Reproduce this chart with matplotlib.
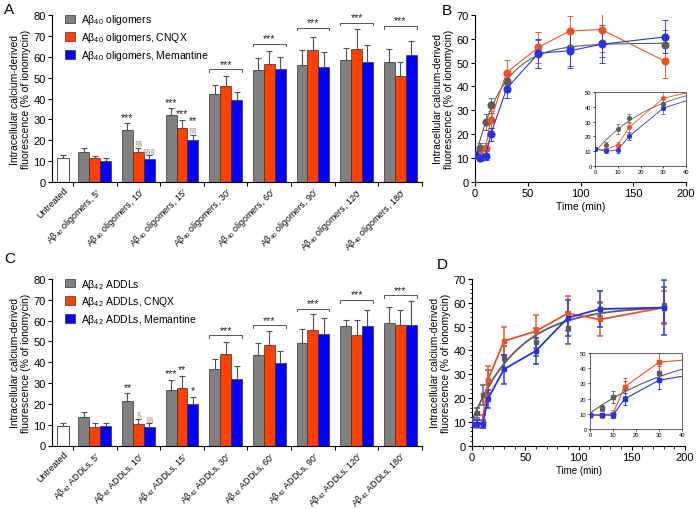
"""
Calcium influx time-course figure: A/C bar panels, B/D kinetic curves with insets.
Output: out.png
"""

import matplotlib
matplotlib.use("Agg")
import matplotlib.pyplot as plt
import numpy as np
from matplotlib.patches import Patch
from matplotlib.ticker import MultipleLocator

plt.rcParams["font.family"] = ["Liberation Sans", "DejaVu Sans"]
plt.rcParams["mathtext.fontset"] = "custom"
plt.rcParams["mathtext.rm"] = "Liberation Sans"
plt.rcParams["mathtext.it"] = "Liberation Sans:italic"
plt.rcParams["axes.linewidth"] = 0.8

# ── Data ──────────────────────────────────────────────────────────────────────
TIMES = [0, 5, 10, 15, 30, 60, 90, 120, 180]
MINUTES = ["5′", "10′", "15′", "30′", "60′", "90′", "120′", "180′"]

# Panel A / B : Aβ40 oligomers
UNTREATED_A = 11.4
UNTREATED_A_ERR = 1.5
OLIG = [14.2, 24.9, 32.1, 42.1, 53.7, 56.0, 58.3, 57.6]
OLIG_ERR = [1.9, 3.4, 3.2, 4.4, 5.8, 7.3, 5.8, 6.1]
OLIG_CNQX = [11.3, 14.2, 26.1, 45.8, 56.4, 63.3, 63.9, 50.6]
OLIG_CNQX_ERR = [1.1, 2.1, 3.7, 5.2, 6.5, 6.2, 9.5, 7.0]
OLIG_MEM = [10.0, 10.9, 20.0, 39.1, 53.9, 55.0, 57.7, 60.8]
OLIG_MEM_ERR = [1.4, 1.9, 2.7, 4.1, 6.2, 7.4, 7.9, 6.9]
BRACKET_A = [54.0, 66.3, 73.9, 76.3, 74.7]

# Panel C / D : Aβ42 ADDLs
UNTREATED_C = 9.3
UNTREATED_C_ERR = 1.3
ADDL = [13.8, 21.2, 26.8, 36.7, 43.6, 49.4, 57.5, 59.0]
ADDL_ERR = [2.2, 4.1, 4.8, 5.0, 5.8, 6.7, 2.9, 7.5]
ADDL_CNQX = [9.0, 10.1, 27.7, 43.9, 48.1, 55.6, 53.0, 58.0]
ADDL_CNQX_ERR = [1.6, 2.7, 5.8, 5.9, 6.9, 7.4, 7.1, 7.0]
ADDL_MEM = [9.3, 9.0, 19.7, 32.1, 39.8, 53.7, 57.4, 58.0]
ADDL_MEM_ERR = [1.4, 1.7, 3.7, 6.0, 5.5, 7.5, 7.6, 11.6]
BRACKET_C = [52.9, 57.7, 65.7, 69.9, 72.1]

# significance marks: (group 1..8, series 0..2, text), stacked bottom-up
SIG_A = [(2, 0, "***"), (2, 1, "§§"), (2, 2, "§§§"),
         (3, 0, "***"), (3, 1, "***"), (3, 2, "§§"), (3, 2, "**")]
SIG_C = [(2, 0, "**"), (2, 1, "§"), (2, 2, "§§"),
         (3, 0, "***"), (3, 1, "**"), (3, 2, "*")]

BAR_COLORS = ["#808080", "#ff4000", "#0000ff"]
LINE_COLORS = ["#5c5c5c", "#ee5026", "#2233ee"]
YLABEL = "Intracellular calcium-derived\nfluorescence (% of ionomycin)"


def exp_fit(t, y):
    """Least-squares fit of y = a + b*exp(-k t) (grid over k)."""
    t = np.asarray(t, float)
    y = np.asarray(y, float)
    best = None
    for k in np.linspace(0.002, 0.3, 600):
        X = np.column_stack([np.ones_like(t), np.exp(-k * t)])
        coef = np.linalg.lstsq(X, y, rcond=None)[0]
        sse = ((X @ coef - y) ** 2).sum()
        if best is None or sse < best[0]:
            best = (sse, k, coef)
    _, k, coef = best
    tt = np.linspace(0, t.max(), 300)
    return tt, coef[0] + coef[1] * np.exp(-k * tt)


def bar_panel(ax, untreated, untreated_err, vals, errs, sig, brackets, prefix):
    centers = np.arange(1, 9)
    offs = [-0.25, 0.0, 0.25]
    ekw = dict(fmt="none", ecolor="#505050", elinewidth=0.8, capsize=2, capthick=0.8)

    ax.bar(0.28, untreated, width=0.27, color="white", edgecolor="#333333", lw=0.6)
    ax.errorbar([0.28], [untreated], yerr=[[0], [untreated_err]], **ekw)
    tops = []
    for s in range(3):
        x = centers + offs[s]
        v = np.array(vals[s])
        e = np.array(errs[s])
        ax.bar(x, v, width=0.25, color=BAR_COLORS[s], edgecolor="#333333", lw=0.5)
        ax.errorbar(x, v, yerr=[np.zeros(8), e], **ekw)
        tops.append(v + e)

    # marks over single bars
    stack = {}
    for g, s, txt in sig:
        key = (g, s)
        y0 = stack.get(key, tops[s][g - 1] + 0.6)
        col = "#8a8a8a" if "§" in txt else "#222222"
        fs = 5.5 if "§" in txt else 7.5
        ax.text(g + offs[s], y0, txt, ha="center", va="bottom", fontsize=fs, color=col)
        stack[key] = y0 + 4.2

    # brackets 30'..180'
    for g, by in zip(range(4, 9), brackets):
        x0, x1 = g - 0.375, g + 0.375
        ax.plot([x0, x0, x1, x1], [by - 1.2, by, by, by - 1.2], color="#555555", lw=0.7)
        ax.text(g, by + 0.3, "***", ha="center", va="bottom", fontsize=7.5, color="#222222")

    ax.set_xlim(0.02, 8.5)
    ax.set_ylim(0, 80)
    ax.yaxis.set_major_locator(MultipleLocator(10))
    ax.tick_params(axis="y", labelsize=8, length=3, width=0.8, pad=1.5)
    labels = ["Untreated"] + [f"{prefix}, {m}" for m in MINUTES]
    ax.set_xticks([0.28] + list(centers))
    ax.set_xticklabels(labels, rotation=45, ha="right", va="top",
                       rotation_mode="anchor", fontsize=6.4)
    ax.tick_params(axis="x", which="major", length=0, pad=2.5)
    ax.set_xticks(np.arange(0.5, 8.6, 1.0), minor=True)
    ax.tick_params(axis="x", which="minor", length=3, width=0.8)
    for sp in ("top", "right"):
        ax.spines[sp].set_visible(False)
    ax.set_ylabel(YLABEL, fontsize=7.5, labelpad=2, linespacing=1.1)

    handles = [Patch(facecolor=c, edgecolor="#333333", lw=0.5) for c in BAR_COLORS]
    names = [prefix, f"{prefix}, CNQX", f"{prefix}, Memantine"]
    ax.legend(handles, names, loc="upper left", bbox_to_anchor=(0.025, 1.04),
              frameon=False, fontsize=7.5, handlelength=0.9, handleheight=0.9,
              labelspacing=0.35, handletextpad=0.6, borderaxespad=0)


def curves(ax, untreated, untreated_err, vals, errs, small, inset=False):
    t = np.array(TIMES)
    ms = 2.2 if small else (2.6 if inset else 4.8)
    lw = 1.3 if small else 0.8
    if inset:
        lw = 0.8 if small else 0.6
    for s in range(3):
        y = np.array([untreated] + list(vals[s]))
        e = np.array([untreated_err] + list(errs[s]))
        c = LINE_COLORS[s]
        mk = "s" if small else "o"
        ax.errorbar(t, y, yerr=e, fmt="none", ecolor=c, elinewidth=lw * 0.9,
                    capsize=1.5 if inset else 2, capthick=lw * 0.9, alpha=0.9, zorder=2)
        if s == 0:
            tt, yy = exp_fit(t, y)
            ax.plot(tt, yy, color=c, lw=lw, zorder=3)
            ax.plot(t, y, mk, color=c, ms=ms, zorder=4)
        else:
            ax.plot(t, y, "-" + mk, color=c, lw=lw, ms=ms, zorder=3 + s)


def line_panel(fig, rect, inset_rect, untreated, untreated_err, vals, errs, small):
    ax = fig.add_axes(rect)
    curves(ax, untreated, untreated_err, vals, errs, small)
    ax.set_xlim(0, 200)
    ax.set_ylim(0, 70)
    ax.xaxis.set_major_locator(MultipleLocator(50))
    ax.yaxis.set_major_locator(MultipleLocator(10))
    if small:
        ax.yaxis.set_minor_locator(MultipleLocator(2))
        ax.xaxis.set_minor_locator(MultipleLocator(10))
        ax.tick_params(which="minor", length=1.8, width=0.6)
    ax.tick_params(labelsize=8, length=3, width=0.8, pad=1.5)
    for sp in ("top", "right"):
        ax.spines[sp].set_visible(False)
    ax.set_xlabel("Time (min)", fontsize=7 if small else 7.5, labelpad=2)
    ax.set_ylabel(YLABEL, fontsize=7.5, labelpad=2, linespacing=1.1)

    axi = fig.add_axes(inset_rect)
    curves(axi, untreated, untreated_err, vals, errs, small, inset=True)
    axi.set_xlim(0, 40)
    axi.set_ylim(0, 50)
    axi.xaxis.set_major_locator(MultipleLocator(10))
    axi.yaxis.set_major_locator(MultipleLocator(10))
    axi.tick_params(labelsize=4.2, length=1.5, width=0.5, pad=1)
    for sp in axi.spines.values():
        sp.set_linewidth(0.6)
        sp.set_color("#444444")
    return ax


# ── Figure ────────────────────────────────────────────────────────────────────
W, H = 696, 510
fig = plt.figure(figsize=(W / 100, H / 100), dpi=100)


def rect(l, t, r, b):
    return [l / W, 1 - b / H, (r - l) / W, (b - t) / H]


axA = fig.add_axes(rect(52, 16, 422, 183))
bar_panel(axA, UNTREATED_A, UNTREATED_A_ERR, [OLIG, OLIG_CNQX, OLIG_MEM],
          [OLIG_ERR, OLIG_CNQX_ERR, OLIG_MEM_ERR], SIG_A, BRACKET_A,
          r"Aβ$_{40}$ oligomers")

axC = fig.add_axes(rect(52, 280, 422, 446.5))
bar_panel(axC, UNTREATED_C, UNTREATED_C_ERR, [ADDL, ADDL_CNQX, ADDL_MEM],
          [ADDL_ERR, ADDL_CNQX_ERR, ADDL_MEM_ERR], SIG_C, BRACKET_C,
          r"Aβ$_{42}$ ADDLs")

line_panel(fig, rect(475, 16, 686, 182.7), rect(595, 93, 686, 167),
           UNTREATED_A, UNTREATED_A_ERR, [OLIG, OLIG_CNQX, OLIG_MEM],
           [OLIG_ERR, OLIG_CNQX_ERR, OLIG_MEM_ERR], small=False)

line_panel(fig, rect(472, 280, 685, 446.7), rect(590, 354, 682, 430),
           UNTREATED_C, UNTREATED_C_ERR, [ADDL, ADDL_CNQX, ADDL_MEM],
           [ADDL_ERR, ADDL_CNQX_ERR, ADDL_MEM_ERR], small=True)

for letter, x, y in [("A", 4, 3), ("B", 442, 4), ("C", 4, 252), ("D", 437, 258)]:
    fig.text(x / W, 1 - y / H, letter, fontsize=11, ha="left", va="top")

fig.savefig("out.png", dpi=100)
